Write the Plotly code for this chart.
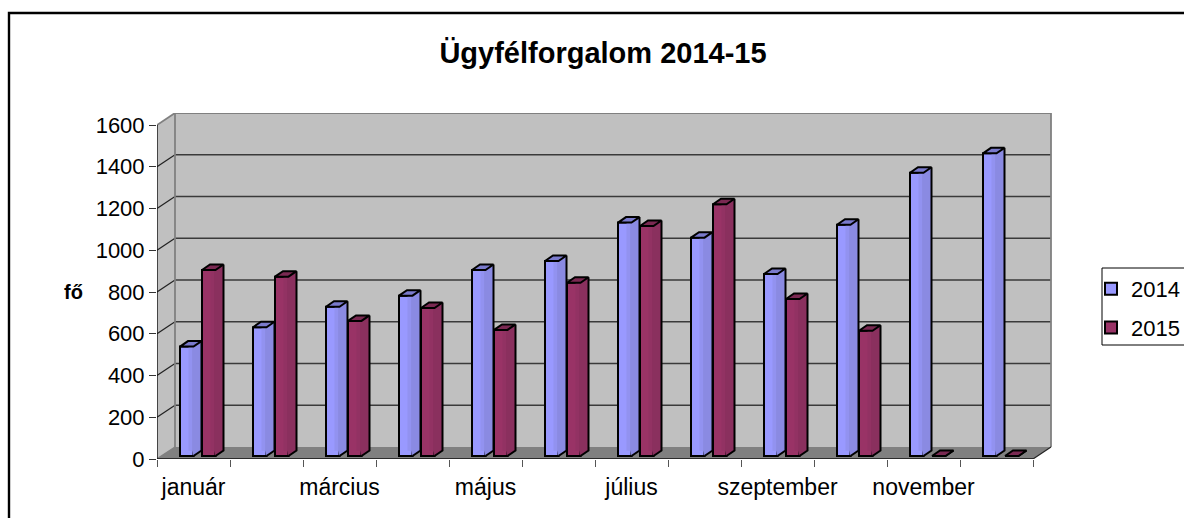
import plotly.graph_objects as go

months = ["január", "február", "március", "április", "május", "június", "július",
          "augusztus", "szeptember", "október", "november", "december"]
values_2014 = [524, 617, 715, 768, 891, 934, 1118, 1046, 872, 1108, 1357, 1450]
values_2015 = [891, 859, 647, 709, 604, 830, 1102, 1206, 752, 600, 0, 0]
value_ticks = [0, 200, 400, 600, 800, 1000, 1200, 1400, 1600]
title_text = "Ügyfélforgalom 2014-15"
y_title = "fő"

W, H = 1184, 518
PX_CAT = 73.0          # pixels per category
PX_VAL = 0.20875       # pixels per value unit
AX_L, AX_B = 157, 459  # pixel position of the axis origin
WALL_R, WALL_T = 1052, 113
DX = 18 / PX_CAT       # wall depth, in axis units
DY = 12 / PX_VAL
n = len(months)
X_MAX = (WALL_R - AX_L) / PX_CAT
Y_MAX = (AX_B - WALL_T) / PX_VAL
BASE = 3 / PX_VAL      # bars stand slightly behind the front edge
BAR_DX = 8 / PX_CAT
BAR_DY = 5.5 / PX_VAL
FRONT_W = 13.5 / PX_CAT
SEAM = 1.4 / PX_CAT
STRIP = 5 / PX_CAT
OFF = [23 / PX_CAT - 0.5, 45 / PX_CAT - 0.5]
LW = 2

BLUE, RED = "#9999FF", "#993366"
BLUE_MID, RED_MID = "#9292F0", "#923263"
BLUE_SIDE, RED_SIDE = "#8A8AE2", "#8A305E"
BLUE_TOP, RED_TOP = "#7A7ACC", "#7A2952"


def px(x):
    return x / W


def py(y):
    return 1 - y / H


fig = go.Figure()
x_centers = [i + 0.5 for i in range(n)]

for name, vals, off, col, mid, side, top in [
    ("2014", values_2014, OFF[0], BLUE, BLUE_MID, BLUE_SIDE, BLUE_TOP),
    ("2015", values_2015, OFF[1], RED, RED_MID, RED_SIDE, RED_TOP),
]:
    fig.add_trace(go.Bar(
        x=x_centers, y=vals, base=[BASE] * n, offset=off, width=FRONT_W, name=name,
        legendgroup=name, marker=dict(color=col, line=dict(color="black", width=LW)),
        hoverinfo="skip"))
    mx, my, sx, sy, ox, oy, tx, ty = [], [], [], [], [], [], [], []
    for c, v in zip(x_centers, vals):
        x0, x1 = c + off, c + off + FRONT_W
        t = BASE + v
        inner = BASE + 25
        if v > 30:
            # softer shading band on the front and the side face, both without a
            # line, so that no seam shows between front and side
            mx += [x1 - STRIP, x1, x1, x1 - STRIP, x1 - STRIP, None]
            my += [inner, inner, t, t, inner, None]
            sx += [x1 - SEAM, x1, x1 + BAR_DX, x1 + BAR_DX, x1 - SEAM, x1 - SEAM, None]
            sy += [inner, BASE, BASE + BAR_DY, t + BAR_DY, t, inner, None]
        # silhouette of the side
        ox += [x1, x1 + BAR_DX, x1 + BAR_DX, None]
        oy += [BASE, BASE + BAR_DY, t + BAR_DY, None]
        tx += [x0, x1, x1 + BAR_DX, x0 + BAR_DX, x0, None]
        ty += [t, t, t + BAR_DY, t + BAR_DY, t, None]
    fig.add_trace(go.Scatter(x=mx, y=my, mode="lines", fill="toself", fillcolor=mid,
                             line=dict(color=mid, width=0), showlegend=False,
                             hoverinfo="skip"))
    fig.add_trace(go.Scatter(x=sx, y=sy, mode="lines", fill="toself", fillcolor=side,
                             line=dict(color=side, width=0), showlegend=False,
                             hoverinfo="skip"))
    fig.add_trace(go.Scatter(x=ox, y=oy, mode="lines",
                             line=dict(color="black", width=LW), showlegend=False,
                             hoverinfo="skip"))
    fig.add_trace(go.Scatter(x=tx, y=ty, mode="lines", fill="toself", fillcolor=top,
                             line=dict(color="black", width=LW), showlegend=False,
                             hoverinfo="skip"))

shapes = []


def poly(points, fill, line=None, width=0, layer="below"):
    d = "M" + " L".join(f"{x},{y}" for x, y in points) + " Z"
    shapes.append(dict(type="path", path=d, xref="x", yref="y", fillcolor=fill,
                       line=dict(color=line or fill, width=width), layer=layer))


def seg(x0, y0, x1, y1, color, width, layer="below"):
    shapes.append(dict(type="line", x0=x0, y0=y0, x1=x1, y1=y1, xref="x", yref="y",
                       line=dict(color=color, width=width), layer=layer))


top_v = value_ticks[-1]
# walls and floor
poly([(DX, DY), (n + DX, DY), (n + DX, top_v + DY), (DX, top_v + DY)], "#C0C0C0")
poly([(0, 0), (DX, DY), (DX, top_v + DY), (0, top_v)], "#C0C0C0")
poly([(0, 0), (n, 0), (n + DX, DY), (DX, DY)], "#808080")
for v in value_ticks[1:-1]:
    seg(DX, v + DY, n + DX, v + DY, "#3A3A3A", 1.4)
    seg(0, v, DX, v + DY, "#222222", 1.2)
# wall outlines
seg(DX, DY, DX, top_v + DY, "#808080", 1.8)
seg(n + DX, DY, n + DX, top_v + DY, "#808080", 1.8)
seg(DX, top_v + DY, n + DX, top_v + DY, "#808080", 1.8)
seg(0, top_v, DX, top_v + DY, "#808080", 1.8)
seg(0, 0, DX, DY, "#808080", 1.5)
seg(n, 0, n + DX, DY, "#222222", 1.2)
# front axes
seg(0, 0, 0, top_v, "#111111", 1.4)
seg(0, 0, n, 0, "#111111", 1.4)

# chart frame and legend box
frame_x0, frame_y0 = 9, 13
shapes.append(dict(type="path", xref="paper", yref="paper", layer="below",
                   path=f"M{px(W + 10)},{py(frame_y0)} L{px(frame_x0)},{py(frame_y0)} "
                        f"L{px(frame_x0)},{py(H + 10)}",
                   line=dict(color="black", width=2.4)))
shapes.append(dict(type="path", xref="paper", yref="paper", layer="below",
                   path=f"M{px(W + 10)},{py(268)} L{px(1102)},{py(268)} "
                        f"L{px(1102)},{py(345)} L{px(W + 10)},{py(345)}",
                   line=dict(color="black", width=1)))

fig.update_layout(
    width=W, height=H, autosize=False,
    margin=dict(l=0, r=0, t=0, b=0, autoexpand=False),
    paper_bgcolor="white", plot_bgcolor="white", barmode="overlay",
    font=dict(family="Liberation Sans, Arial, sans-serif", color="black", size=22),
    shapes=shapes,
    title=dict(text=f"<b>{title_text}</b>", x=603 / W, xanchor="center", y=py(53),
               yanchor="middle", font=dict(size=29, color="black")),
    legend=dict(x=px(1091), xanchor="left", y=py(268), yanchor="top", borderwidth=0,
                bgcolor="rgba(0,0,0,0)", tracegroupgap=7, traceorder="grouped",
                font=dict(size=22), itemclick=False, itemdoubleclick=False),
    annotations=[dict(text=f"<b>{y_title}</b>", xref="paper", yref="paper", x=px(73),
                      xanchor="center", y=py(292), showarrow=False, font=dict(size=20))],
    xaxis=dict(domain=[px(AX_L), px(WALL_R)], range=[0, X_MAX], showgrid=False,
               zeroline=False, showline=False, tickmode="array",
               tickvals=x_centers[::2], ticktext=months[::2], ticks="outside",
               ticklen=7, tickcolor="rgba(0,0,0,0)", tickfont=dict(size=23),
               minor=dict(tickmode="array", tickvals=list(range(n + 1)), ticks="outside",
                          ticklen=7, tickcolor="#555555", tickwidth=1.4, showgrid=False)),
    yaxis=dict(domain=[py(AX_B), py(WALL_T)], range=[0, Y_MAX], showgrid=False,
               zeroline=False, showline=False, tickmode="array", tickvals=value_ticks,
               ticks="outside", ticklen=7, tickcolor="#333333", tickwidth=1.4),
)

fig.write_html("out.html", post_script="document.body.style.margin='0';",
               config=dict(displayModeBar=False))
